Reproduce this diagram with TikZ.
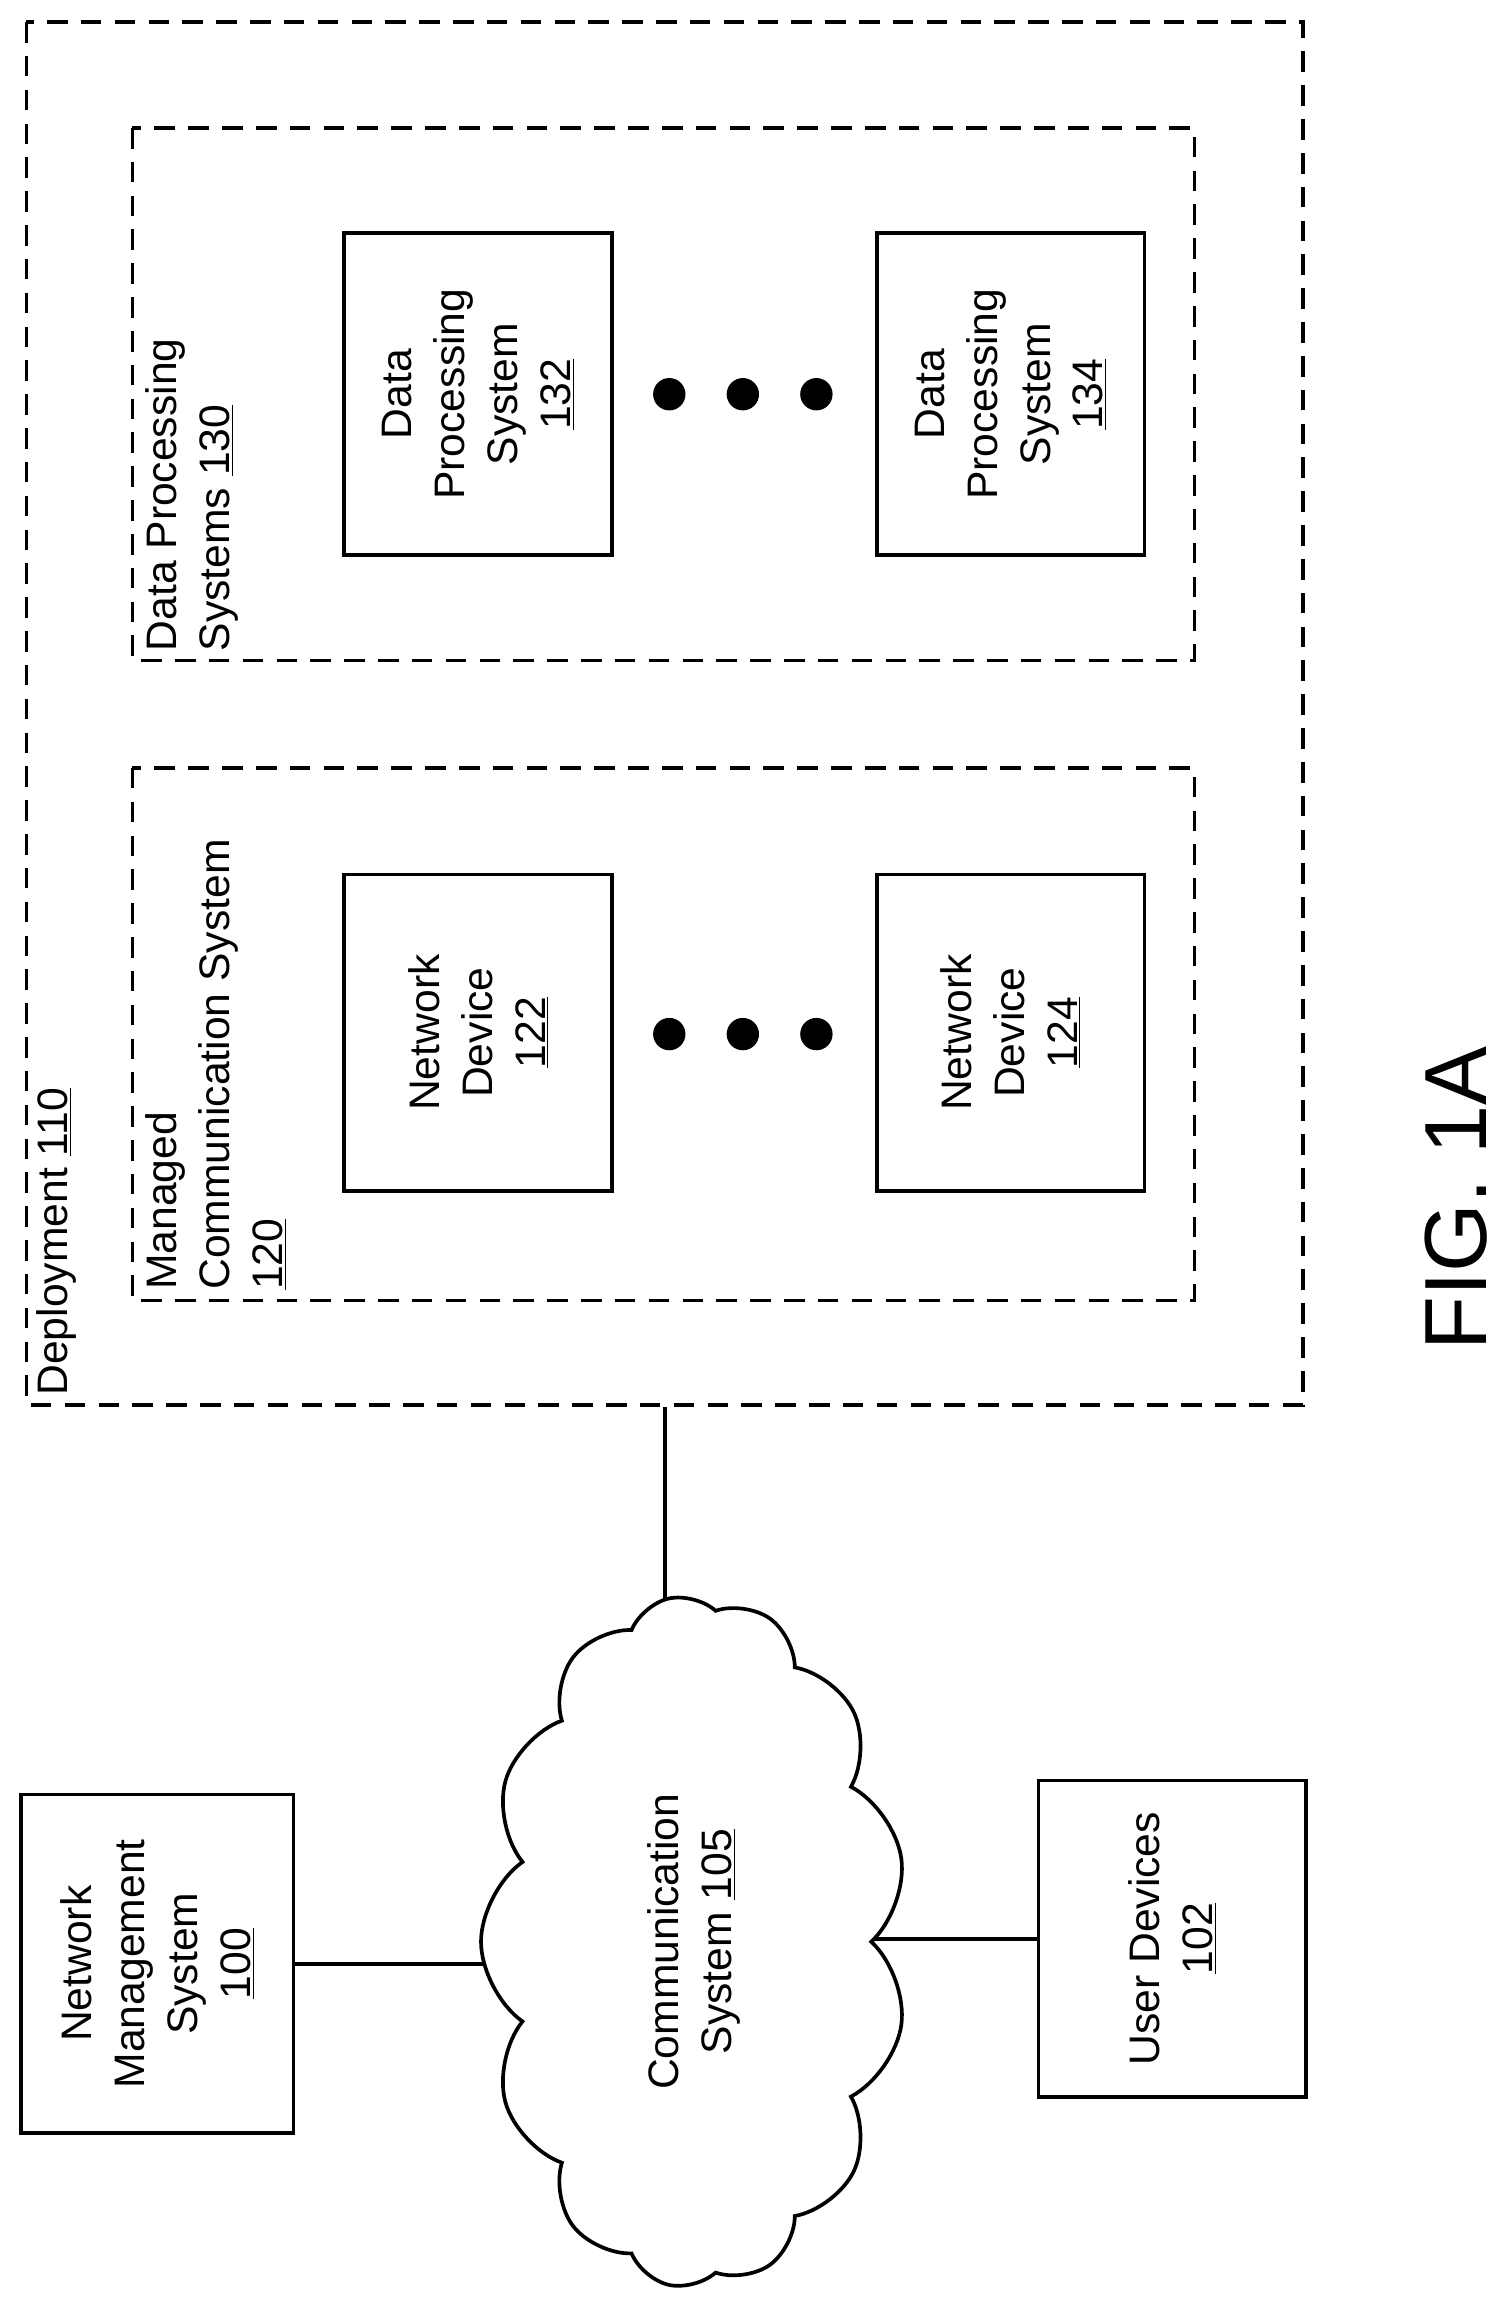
\documentclass[tikz,border=0pt]{standalone}
\usepackage{fontspec}
\setmainfont{Liberation Sans}
\usetikzlibrary{shapes.symbols,backgrounds}
\begin{document}
\begin{tikzpicture}[x=1pt,y=-1pt,
  txt/.style={font=\fontsize{29}{36}\selectfont},
  box/.style={draw,line width=2.5pt,rotate=90,align=center,txt,inner sep=0},
  dbox/.style={draw,line width=2.5pt,dash pattern=on 14pt off 9pt,rotate=90,inner sep=0},
  lbl/.style={rotate=90,align=left,txt,inner sep=3pt},
  dot/.style={circle,fill,minimum size=22pt,inner sep=0},
  ln/.style={line width=2.5pt}]
\useasboundingbox (0,0) rectangle (1024,1567);
\node[dbox,minimum width=940,minimum height=868] (dep) at (452,485) {};
\node[dbox,minimum width=362,minimum height=722] (dps) at (451,268) {};
\node[dbox,minimum width=362,minimum height=722] (mcs) at (451,703) {};
\node[lbl,anchor=north west] (ldep) at (22,952) {Deployment \underline{110}};
\node[lbl,anchor=north west] (lmcs) at (96,880) {Managed\\Communication System\\\underline{120}};
\node[lbl,anchor=north west] (ldps) at (96,446) {Data Processing\\Systems \underline{130}};
\node[box,minimum width=219,minimum height=182] (d132) at (325,268) {Data\\Processing\\System\\\underline{132}};
\node[box,minimum width=219,minimum height=182] (d134) at (687,268) {Data\\Processing\\System\\\underline{134}};
\node[box,minimum width=215,minimum height=182] (n122) at (325,702) {Network\\Device\\\underline{122}};
\node[box,minimum width=215,minimum height=182] (n124) at (687,702) {Network\\Device\\\underline{124}};
\node[dot] (a1) at (455,268) {};\node[dot] (a2) at (505,268) {};\node[dot] (a3) at (555,268) {};
\node[dot] (b1) at (455,703) {};\node[dot] (b2) at (505,703) {};\node[dot] (b3) at (555,703) {};
\node[draw,line width=2.5pt,fill=white,cloud,cloud puffs=13,cloud puff arc=110,aspect=1.6,minimum width=470,minimum height=290,rotate=90,align=center,txt,inner sep=0] (cl) at (472,1320) {Communication\\System \underline{105}};
\node[box,minimum width=230,minimum height=185] (nms) at (107,1335) {Network\\Management\\System\\\underline{100}};
\node[box,minimum width=215,minimum height=182] (ud) at (797,1318) {User Devices\\\underline{102}};
\begin{scope}[on background layer]
\draw[ln] (dep.west) -- (dep.west |- cl.center);
\draw[ln] (nms.south) -- (nms.south -| cl.center);
\draw[ln] (ud.north) -- (ud.north -| cl.center);
\end{scope}
\node[rotate=90,font=\fontsize{60}{70}\selectfont] (fig) at (990,815) {FIG. 1A};
\end{tikzpicture}
\end{document}
